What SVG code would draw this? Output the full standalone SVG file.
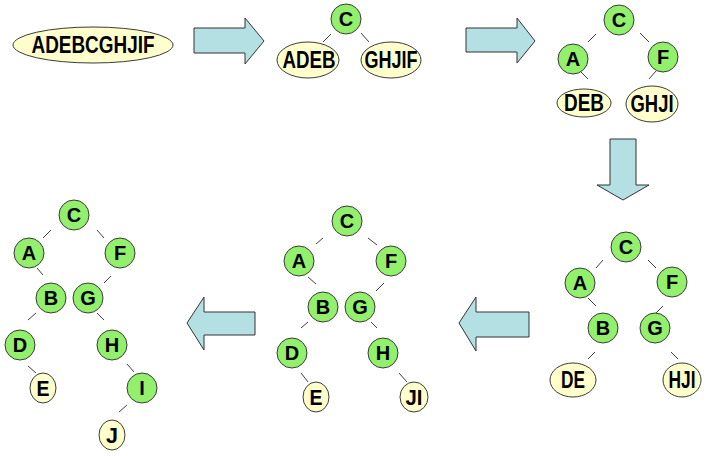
<svg xmlns="http://www.w3.org/2000/svg" width="714" height="456" viewBox="0 0 714 456">
<style>
.g{fill:#93f06c;stroke:#3a3a3a;stroke-width:1}
.y{fill:#ffffcc;stroke:#3a3a3a;stroke-width:1}
.t{font-family:"Liberation Sans",Arial,sans-serif;font-weight:bold;font-size:20px;text-anchor:middle;fill:#000}
.ty{font-family:"Liberation Sans",Arial,sans-serif;font-weight:bold;font-size:24px;text-anchor:middle;fill:#000}
.ts{font-family:"Liberation Sans",Arial,sans-serif;font-weight:bold;font-size:22px;text-anchor:middle;fill:#000}
.e{stroke:#404040;stroke-width:1;fill:none}
.arr{fill:#b4e0e4;stroke:#333;stroke-width:1;stroke-linejoin:miter}
</style>
<rect width="714" height="456" fill="#fff"/>
<g id="arrows">
<polygon class="arr" points="194,28 245,28 245,18 264,41 245,64 245,53 194,53"/>
<polygon class="arr" points="466,28 517,28 517,18 535,41 517,63 517,52 466,52"/>
<polygon class="arr" points="610,139 636,139 636,185 649,185 623,200 597,185 610,185"/>
<polygon class="arr" points="529,312 476,312 476,297 459,323 476,351 476,337 529,337"/>
<polygon class="arr" points="255,312 204,312 204,297 187,323 204,350 204,335 255,335"/>
</g>
<g id="connectors">
<line class="e" x1="323" y1="42" x2="331" y2="34"/>
<line class="e" x1="361" y1="33" x2="369" y2="42"/>
<line class="e" x1="588" y1="42" x2="596" y2="34"/>
<line class="e" x1="640" y1="33" x2="649" y2="42"/>
<line class="e" x1="581" y1="72" x2="588" y2="79"/>
<line class="e" x1="656" y1="71" x2="649" y2="79"/>
<line class="e" x1="596" y1="268" x2="603" y2="260"/>
<line class="e" x1="648" y1="260" x2="656" y2="268"/>
<line class="e" x1="588" y1="298" x2="596" y2="306"/>
<line class="e" x1="663" y1="306" x2="656" y2="313"/>
<line class="e" x1="595" y1="352" x2="588" y2="359"/>
<line class="e" x1="671" y1="352" x2="678" y2="359"/>
<line class="e" x1="316" y1="244" x2="323" y2="238"/>
<line class="e" x1="368" y1="238" x2="377" y2="245"/>
<line class="e" x1="308" y1="277" x2="316" y2="284"/>
<line class="e" x1="384" y1="283" x2="376" y2="291"/>
<line class="e" x1="308" y1="322" x2="301" y2="328"/>
<line class="e" x1="371" y1="322" x2="377" y2="328"/>
<line class="e" x1="301" y1="373" x2="308" y2="382"/>
<line class="e" x1="399" y1="373" x2="407" y2="382"/>
<line class="e" x1="43" y1="238" x2="51" y2="230"/>
<line class="e" x1="97" y1="230" x2="104" y2="238"/>
<line class="e" x1="37" y1="268" x2="43" y2="275"/>
<line class="e" x1="111" y1="276" x2="104" y2="283"/>
<line class="e" x1="36" y1="313" x2="28" y2="320"/>
<line class="e" x1="97" y1="313" x2="104" y2="320"/>
<line class="e" x1="28" y1="366" x2="36" y2="373"/>
<line class="e" x1="127" y1="364" x2="134" y2="372"/>
<line class="e" x1="127" y1="405" x2="119" y2="412"/>
</g>
<g id="s1-all"><ellipse class="y" cx="93" cy="45" rx="80" ry="18"/><text class="ty" x="93" y="53" textLength="123" lengthAdjust="spacingAndGlyphs">ADEBCGHJIF</text></g>
<g id="s2-C"><circle class="g" cx="346" cy="19" r="15"/><text class="t" x="346" y="26">C</text></g>
<g id="s2-ADEB"><ellipse class="y" cx="308" cy="60" rx="31" ry="18"/><text class="ty" x="309" y="68" textLength="53" lengthAdjust="spacingAndGlyphs">ADEB</text></g>
<g id="s2-GHJIF"><ellipse class="y" cx="391" cy="60" rx="30" ry="18"/><text class="ty" x="391" y="68" textLength="53" lengthAdjust="spacingAndGlyphs">GHJIF</text></g>
<g id="s3-C"><circle class="g" cx="619" cy="20" r="15"/><text class="t" x="619" y="27">C</text></g>
<g id="s3-A"><circle class="g" cx="573" cy="59" r="15"/><text class="t" x="573" y="66">A</text></g>
<g id="s3-F"><circle class="g" cx="663" cy="57" r="15"/><text class="t" x="663" y="64">F</text></g>
<g id="s3-DEB"><ellipse class="y" cx="584" cy="103" rx="27" ry="14"/><text class="ty" x="584" y="111" textLength="40" lengthAdjust="spacingAndGlyphs">DEB</text></g>
<g id="s3-GHJI"><ellipse class="y" cx="652" cy="104" rx="26" ry="18"/><text class="ty" x="652" y="112" textLength="43" lengthAdjust="spacingAndGlyphs">GHJI</text></g>
<g id="s4-C"><circle class="g" cx="626" cy="247" r="15"/><text class="t" x="626" y="254">C</text></g>
<g id="s4-A"><circle class="g" cx="580" cy="283" r="15"/><text class="t" x="580" y="290">A</text></g>
<g id="s4-F"><circle class="g" cx="672" cy="282" r="15"/><text class="t" x="672" y="289">F</text></g>
<g id="s4-B"><circle class="g" cx="603" cy="328" r="15"/><text class="t" x="603" y="335">B</text></g>
<g id="s4-G"><circle class="g" cx="655" cy="328" r="15"/><text class="t" x="655" y="335">G</text></g>
<g id="s4-DE"><ellipse class="y" cx="573" cy="380" rx="23" ry="17"/><text class="ty" x="573" y="388" textLength="24" lengthAdjust="spacingAndGlyphs">DE</text></g>
<g id="s4-HJI"><ellipse class="y" cx="682" cy="380" rx="19" ry="17"/><text class="ty" x="682" y="388" textLength="27" lengthAdjust="spacingAndGlyphs">HJI</text></g>
<g id="s5-C"><circle class="g" cx="347" cy="221" r="15"/><text class="t" x="347" y="228">C</text></g>
<g id="s5-A"><circle class="g" cx="299" cy="261" r="15"/><text class="t" x="299" y="268">A</text></g>
<g id="s5-F"><circle class="g" cx="391" cy="261" r="15"/><text class="t" x="391" y="268">F</text></g>
<g id="s5-B"><circle class="g" cx="323" cy="307" r="15"/><text class="t" x="323" y="314">B</text></g>
<g id="s5-G"><circle class="g" cx="360" cy="307" r="15"/><text class="t" x="360" y="314">G</text></g>
<g id="s5-D"><circle class="g" cx="292" cy="353" r="15"/><text class="t" x="292" y="360">D</text></g>
<g id="s5-H"><circle class="g" cx="383" cy="353" r="15"/><text class="t" x="383" y="360">H</text></g>
<g id="s5-E"><ellipse class="y" cx="316" cy="397" rx="13" ry="15"/><text class="ts" x="316" y="405" textLength="13" lengthAdjust="spacingAndGlyphs">E</text></g>
<g id="s5-JI"><ellipse class="y" cx="414" cy="397" rx="14" ry="15"/><text class="ts" x="414" y="405" textLength="17" lengthAdjust="spacingAndGlyphs">JI</text></g>
<g id="s6-C"><circle class="g" cx="74" cy="215" r="15"/><text class="t" x="74" y="222">C</text></g>
<g id="s6-A"><circle class="g" cx="29" cy="253" r="15"/><text class="t" x="29" y="260">A</text></g>
<g id="s6-F"><circle class="g" cx="120" cy="253" r="15"/><text class="t" x="120" y="260">F</text></g>
<g id="s6-B"><circle class="g" cx="51" cy="298" r="15"/><text class="t" x="51" y="305">B</text></g>
<g id="s6-G"><circle class="g" cx="88" cy="298" r="15"/><text class="t" x="88" y="305">G</text></g>
<g id="s6-D"><circle class="g" cx="20" cy="345" r="15"/><text class="t" x="20" y="352">D</text></g>
<g id="s6-H"><circle class="g" cx="112" cy="345" r="15"/><text class="t" x="112" y="352">H</text></g>
<g id="s6-E"><ellipse class="y" cx="43" cy="388" rx="13" ry="15"/><text class="ts" x="43" y="396" textLength="13" lengthAdjust="spacingAndGlyphs">E</text></g>
<g id="s6-I"><circle class="g" cx="142" cy="388" r="15"/><text class="t" x="142" y="395">I</text></g>
<g id="s6-J"><ellipse class="y" cx="112" cy="435" rx="13" ry="15"/><text class="ts" x="112" y="443" textLength="12" lengthAdjust="spacingAndGlyphs">J</text></g>
</svg>
